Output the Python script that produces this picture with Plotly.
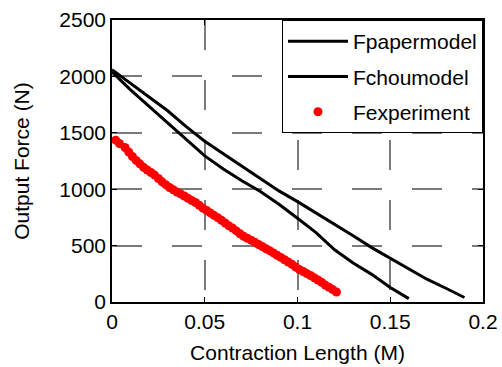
import plotly.graph_objects as go

# Model curves (contraction length in m, force in N)
paper_x = [0, 0.01, 0.02, 0.03, 0.04, 0.05, 0.06, 0.07, 0.08, 0.09, 0.10,
           0.11, 0.12, 0.13, 0.14, 0.15, 0.16, 0.17, 0.18, 0.19]
paper_y = [2060, 1940, 1822, 1695, 1555, 1425, 1315, 1205, 1095, 985, 890,
           790, 690, 588, 482, 388, 292, 200, 122, 40]

chou_x = [0, 0.01, 0.02, 0.03, 0.04, 0.05, 0.06, 0.07, 0.08, 0.09, 0.10,
          0.11, 0.12, 0.13, 0.14, 0.15, 0.16]
chou_y = [2040, 1880, 1735, 1588, 1440, 1295, 1180, 1075, 980, 866, 742,
          615, 463, 345, 245, 128, 30]

exp_x = [0.002, 0.004, 0.007, 0.009, 0.011, 0.013, 0.015, 0.017, 0.019, 0.021,
         0.023, 0.025, 0.027, 0.029, 0.031, 0.033, 0.035, 0.037, 0.039, 0.041,
         0.043, 0.045, 0.047, 0.049, 0.051, 0.053, 0.055, 0.057, 0.059, 0.061,
         0.063, 0.065, 0.067, 0.069, 0.071, 0.073, 0.075, 0.077, 0.079, 0.081,
         0.083, 0.085, 0.087, 0.089, 0.091, 0.093, 0.095, 0.097, 0.099, 0.101,
         0.103, 0.105, 0.107, 0.109, 0.111, 0.113, 0.115, 0.117, 0.119, 0.121]
exp_y = [1435, 1405, 1370, 1330, 1290, 1255, 1225, 1195, 1170, 1148,
         1125, 1095, 1065, 1040, 1015, 995, 975, 958, 940, 920,
         900, 882, 858, 832, 812, 790, 768, 748, 725, 700,
         675, 655, 630, 605, 582, 565, 548, 530, 510, 492,
         472, 455, 435, 414, 395, 375, 355, 335, 310, 288,
         270, 252, 235, 215, 195, 175, 150, 130, 110, 89]

x_ticks = [0, 0.05, 0.1, 0.15, 0.2]
x_labels = ["0", "0.05", "0.1", "0.15", "0.2"]
y_ticks = [0, 500, 1000, 1500, 2000, 2500]
y_labels = ["0", "500", "1000", "1500", "2000", "2500"]

FONT = "Liberation Sans, Arial, sans-serif"
FS = 21

fig = go.Figure()
fig.add_trace(go.Scatter(x=paper_x, y=paper_y, mode="lines", name="Fpapermodel",
                         line=dict(color="black", width=3), legendgroup="a"))
fig.add_trace(go.Scatter(x=chou_x, y=chou_y, mode="lines", name="Fchoumodel",
                         line=dict(color="black", width=3), legendgroup="b"))
fig.add_trace(go.Scatter(x=exp_x, y=exp_y, mode="markers", name="Fexperiment",
                         marker=dict(color="red", size=9, line=dict(width=0)),
                         legendgroup="c"))

axis_common = dict(
    showline=True, linecolor="black", linewidth=1.5, mirror="ticks",
    ticks="inside", ticklen=5, tickcolor="black", tickwidth=1,
    showgrid=True, gridcolor="#7a7a7a", gridwidth=1.5, griddash="30px,30px",
    zeroline=False, tickfont=dict(size=FS, color="black", family=FONT),
)

fig.update_layout(
    width=502, height=367,
    margin=dict(l=112, r=19, t=20, b=65),
    paper_bgcolor="white", plot_bgcolor="white",
    font=dict(family=FONT, color="black", size=FS),
    xaxis=dict(range=[0, 0.2], tickvals=x_ticks, ticktext=x_labels,
               automargin=False,
               title=dict(text="Contraction Length (M)", font=dict(size=FS), standoff=13),
               **axis_common),
    yaxis=dict(range=[0, 2500], tickvals=y_ticks, ticktext=y_labels,
               automargin=False,
               title=dict(text="Output Force (N)", font=dict(size=FS), standoff=24),
               **axis_common),
    legend=dict(x=1, y=1, xanchor="right", yanchor="top",
                bgcolor="white", bordercolor="black", borderwidth=1,
                font=dict(size=FS, family=FONT), tracegroupgap=5,
                itemwidth=60),
    showlegend=True,
)

fig.write_html("out.html")
